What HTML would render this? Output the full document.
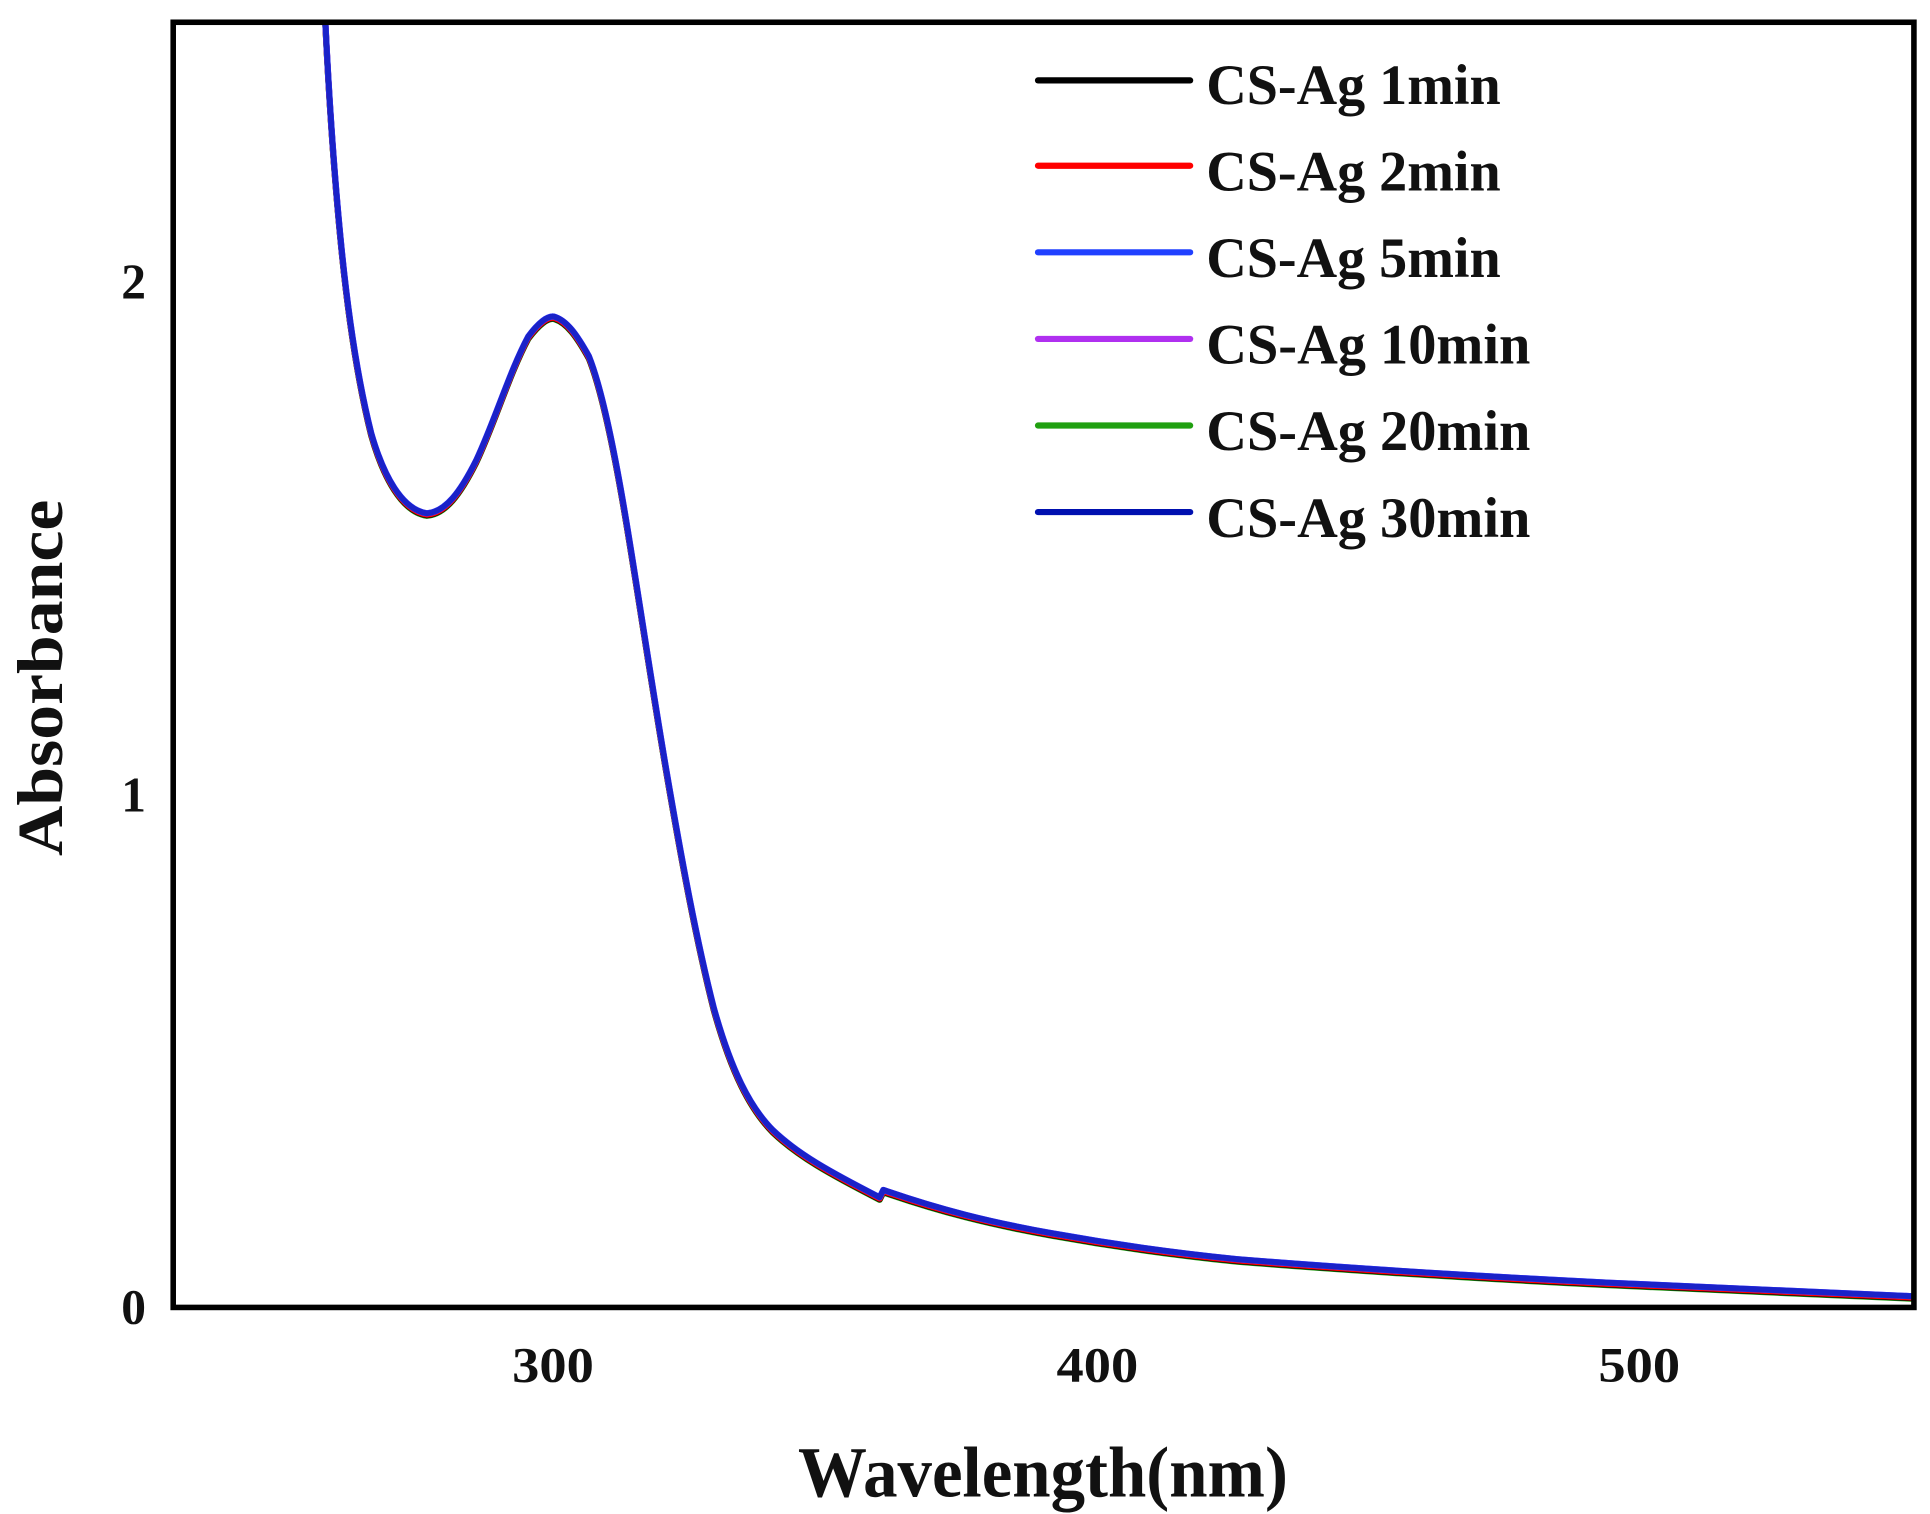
<!DOCTYPE html>
<html><head><meta charset="utf-8"><style>html,body{margin:0;padding:0;background:#fff}svg{display:block}</style></head>
<body>
<svg width="1930" height="1514" viewBox="0 0 1560 1224" preserveAspectRatio="none" xmlns="http://www.w3.org/2000/svg">
<rect width="1560" height="1224" fill="#fff"/>
<g font-family="Liberation Serif, serif" font-weight="bold" fill="#111">
<text x="118" y="1070" font-size="40" text-anchor="end">0</text>
<text x="118" y="656" font-size="40" text-anchor="end">1</text>
<text x="118" y="241" font-size="40" text-anchor="end">2</text>
<text x="447" y="1117" font-size="40" text-anchor="middle" textLength="66" lengthAdjust="spacingAndGlyphs">300</text>
<text x="887" y="1117" font-size="40" text-anchor="middle" textLength="66" lengthAdjust="spacingAndGlyphs">400</text>
<text x="1325" y="1117" font-size="40" text-anchor="middle" textLength="66" lengthAdjust="spacingAndGlyphs">500</text>
<text x="843" y="1210" font-size="58" text-anchor="middle" textLength="396" lengthAdjust="spacingAndGlyphs">Wavelength(nm)</text>
<text transform="translate(50,548) rotate(-90)" font-size="52" text-anchor="middle" textLength="288" lengthAdjust="spacingAndGlyphs">Absorbance</text>
</g>
<g stroke-width="5" stroke-linecap="round">
<line x1="839" y1="65" x2="962" y2="65" stroke="#000"/>
<line x1="839" y1="134" x2="962" y2="134" stroke="#ff0000"/>
<line x1="839" y1="204" x2="962" y2="204" stroke="#2040ff"/>
<line x1="839" y1="274" x2="962" y2="274" stroke="#b030f0"/>
<line x1="839" y1="344" x2="962" y2="344" stroke="#20a010"/>
<line x1="839" y1="414" x2="962" y2="414" stroke="#0010b0"/>
</g>
<g font-family="Liberation Serif, serif" font-weight="bold" font-size="46" fill="#111">
<text x="975" y="84" textLength="238" lengthAdjust="spacingAndGlyphs">CS-Ag 1min</text>
<text x="975" y="154" textLength="238" lengthAdjust="spacingAndGlyphs">CS-Ag 2min</text>
<text x="975" y="224" textLength="238" lengthAdjust="spacingAndGlyphs">CS-Ag 5min</text>
<text x="975" y="294" textLength="262" lengthAdjust="spacingAndGlyphs">CS-Ag 10min</text>
<text x="975" y="364" textLength="262" lengthAdjust="spacingAndGlyphs">CS-Ag 20min</text>
<text x="975" y="434" textLength="262" lengthAdjust="spacingAndGlyphs">CS-Ag 30min</text>
</g>
<defs>
<clipPath id="c"><rect x="140" y="18" width="1407" height="1039"/></clipPath>
<path id="p" d="M263,18 C266,80 270,140 276,200 C282,260 290,310 300,350 C310,385 325,412 345,415 C360,414 372,398 385,372 C400,340 412,300 427,272 C436,260 443,255 448,256 C458,259 466,270 476,288 C486,313 496,360 506,420 C516,480 527,555 539,625 C551,695 563,760 577,815 C591,865 606,895 625,914 C645,933 670,947 711,968 L714,962 C760,978 800,988 850,997 C900,1006 950,1013 1000,1018 C1100,1026 1200,1032 1300,1037 C1400,1041 1480,1045 1547,1048"/>
</defs>
<g clip-path="url(#c)" fill="none" stroke-width="5" stroke-linejoin="round">
<use href="#p" transform="translate(0,2)" stroke="#20a010"/>
<use href="#p" transform="translate(0,1.5)" stroke="#000"/>
<use href="#p" transform="translate(0,1)" stroke="#ff0000"/>
<use href="#p" stroke="#b030f0"/>
<use href="#p" stroke="#2040ff"/>
<use href="#p" stroke="#1a22c8" stroke-width="4.5"/>
</g>
<rect x="140" y="18" width="1407" height="1039" fill="none" stroke="#000" stroke-width="4.5"/>
</svg>
</body></html>
